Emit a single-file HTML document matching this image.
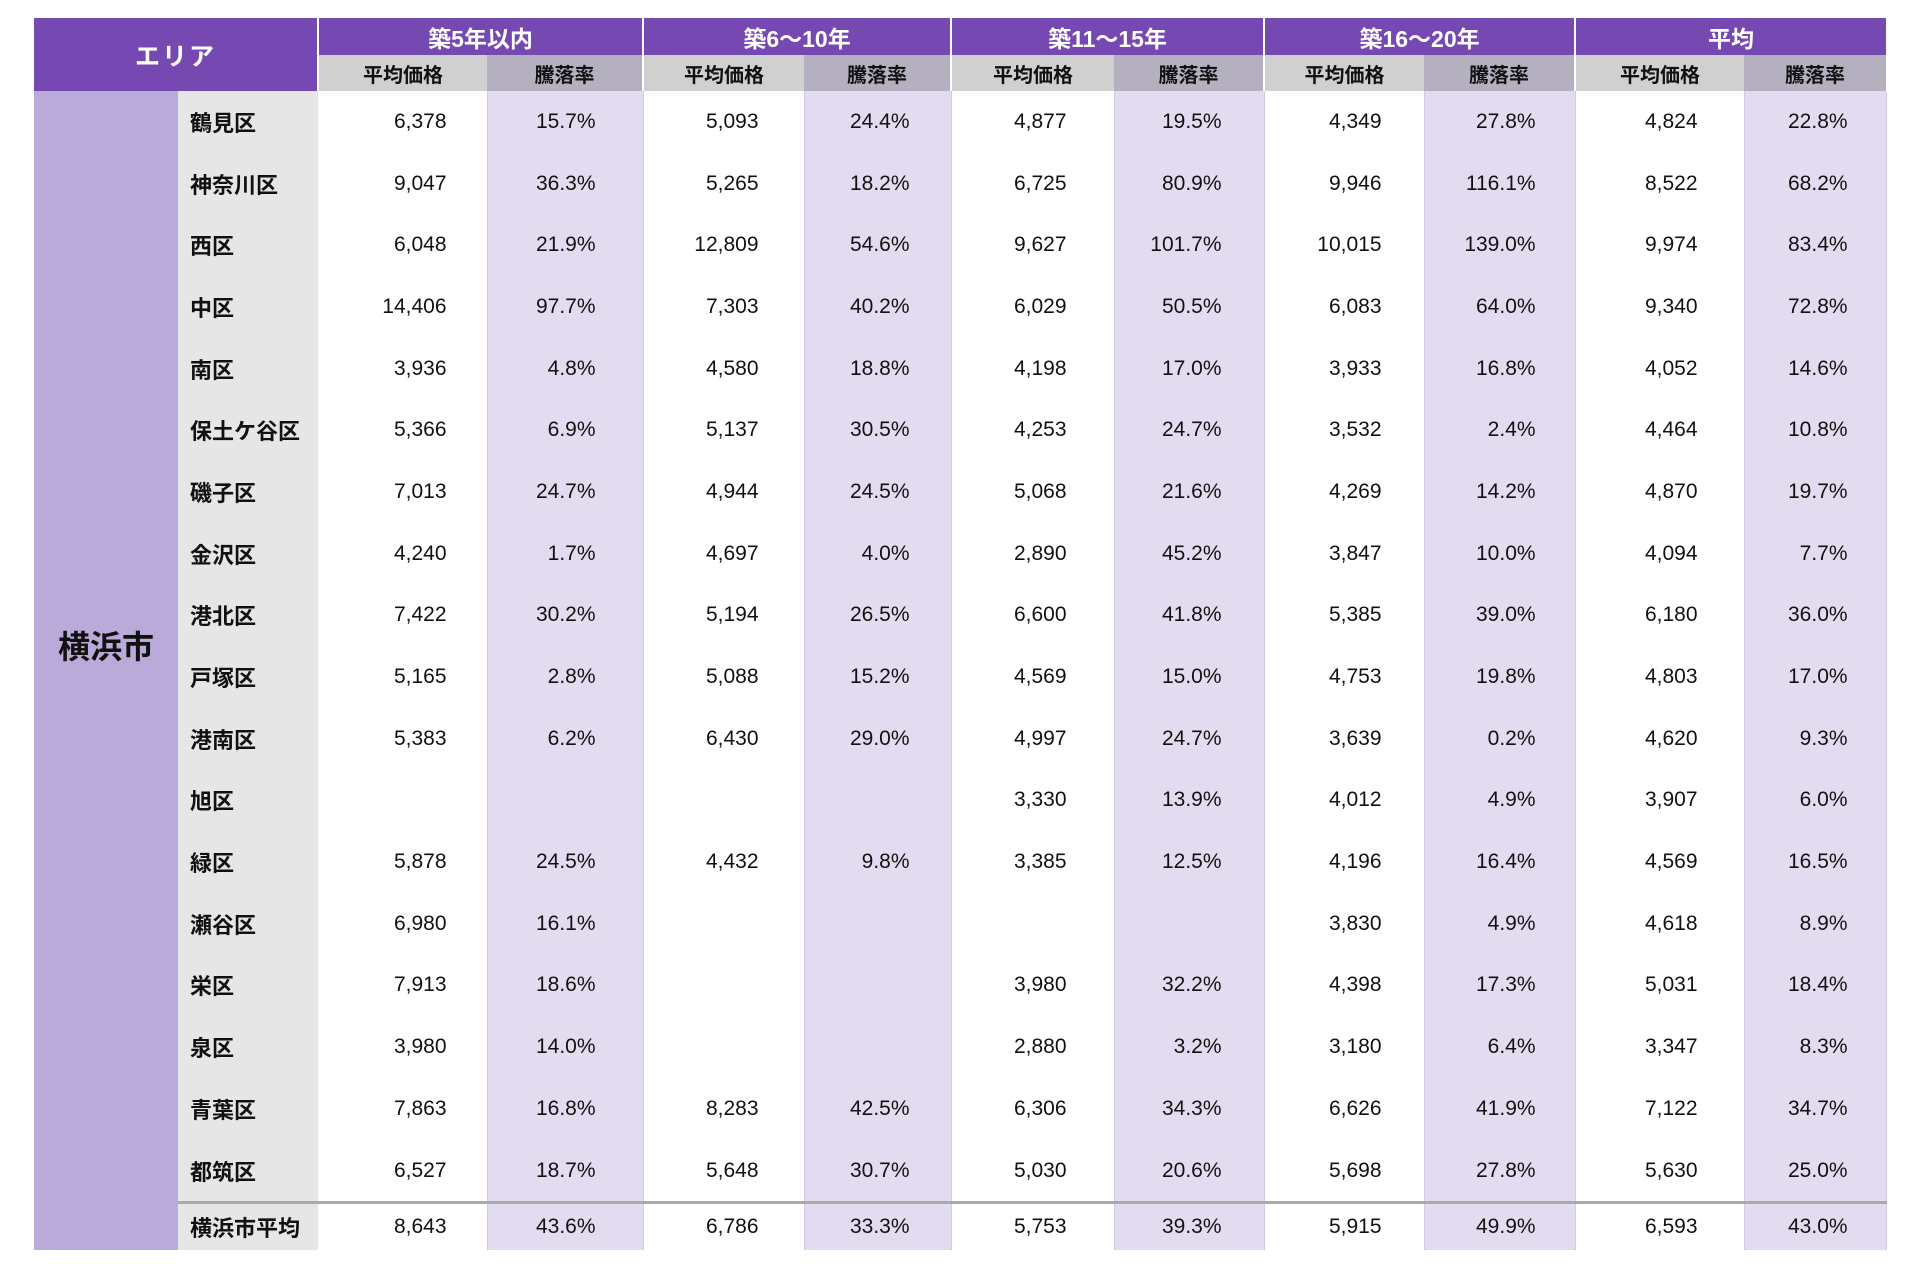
<!DOCTYPE html>
<html><head><meta charset="utf-8"><style>
html,body{margin:0;padding:0;background:#fff;width:1920px;height:1280px;overflow:hidden}
table{position:absolute;left:34px;top:18px;border-collapse:collapse;table-layout:fixed;width:1852px;font-family:"Liberation Sans","Noto Sans CJK JP",sans-serif}
td,th{padding:0;white-space:nowrap;overflow:hidden}
th.g{background:#7549b1;color:#fff;font-size:23px;font-weight:bold;height:37px;border-left:2px solid #fff}
th.ar{background:#7549b1;color:#fff;font-size:25px;font-weight:bold;letter-spacing:2px}
th.s{background:#d0d0d0;color:#111;font-size:20px;height:36px;font-weight:bold}
th.r{background:#b4b0c0}
th.s.f{border-left:2px solid #fff}
tbody td{font-size:21px;color:#111;text-align:right;height:61.7px}
tbody td.rt{background:#e3dcf0;border-left:1px solid #d2c9e6;border-right:1px solid #d2c9e6}
td.nm{background:#e6e6e6;text-align:left;padding-left:12px;font-weight:bold;font-size:22px}
td.city{background:#b9aad9;text-align:center;font-size:32px;font-weight:bold;padding-bottom:52px}
tr td:nth-last-child(1){padding-right:38px}
tr td:nth-last-child(2){padding-right:46px}
tr td:nth-last-child(3){padding-right:39px}
tr td:nth-last-child(4){padding-right:42px}
tr td:nth-last-child(5){padding-right:42px}
tr td:nth-last-child(6){padding-right:47px}
tr td:nth-last-child(7){padding-right:41px}
tr td:nth-last-child(8){padding-right:45px}
tr td:nth-last-child(9){padding-right:47px}
tr td:nth-last-child(10){padding-right:40px}
tr.last td{height:46px;border-top:3px solid #aaa}
tr.last td.nm{border-top:3px solid #aaa}
</style></head><body>
<table>
<colgroup><col style="width:144px"><col style="width:140px"><col style="width:169px"><col style="width:156px"><col style="width:161px"><col style="width:147px"><col style="width:163px"><col style="width:150px"><col style="width:160px"><col style="width:151px"><col style="width:169px"><col style="width:142px"></colgroup>
<thead>
<tr><th class="ar" colspan="2" rowspan="2">エリア</th><th class="g" colspan="2">築5年以内</th><th class="g" colspan="2">築6～10年</th><th class="g" colspan="2">築11～15年</th><th class="g" colspan="2">築16～20年</th><th class="g" colspan="2">平均</th></tr>
<tr><th class="s f">平均価格</th><th class="s r">騰落率</th><th class="s f">平均価格</th><th class="s r">騰落率</th><th class="s f">平均価格</th><th class="s r">騰落率</th><th class="s f">平均価格</th><th class="s r">騰落率</th><th class="s f">平均価格</th><th class="s r">騰落率</th></tr>
</thead>
<tbody>
<tr><td class="city" rowspan="19">横浜市</td><td class="nm">鶴見区</td><td>6,378</td><td class="rt">15.7%</td><td>5,093</td><td class="rt">24.4%</td><td>4,877</td><td class="rt">19.5%</td><td>4,349</td><td class="rt">27.8%</td><td>4,824</td><td class="rt">22.8%</td></tr>
<tr><td class="nm">神奈川区</td><td>9,047</td><td class="rt">36.3%</td><td>5,265</td><td class="rt">18.2%</td><td>6,725</td><td class="rt">80.9%</td><td>9,946</td><td class="rt">116.1%</td><td>8,522</td><td class="rt">68.2%</td></tr>
<tr><td class="nm">西区</td><td>6,048</td><td class="rt">21.9%</td><td>12,809</td><td class="rt">54.6%</td><td>9,627</td><td class="rt">101.7%</td><td>10,015</td><td class="rt">139.0%</td><td>9,974</td><td class="rt">83.4%</td></tr>
<tr><td class="nm">中区</td><td>14,406</td><td class="rt">97.7%</td><td>7,303</td><td class="rt">40.2%</td><td>6,029</td><td class="rt">50.5%</td><td>6,083</td><td class="rt">64.0%</td><td>9,340</td><td class="rt">72.8%</td></tr>
<tr><td class="nm">南区</td><td>3,936</td><td class="rt">4.8%</td><td>4,580</td><td class="rt">18.8%</td><td>4,198</td><td class="rt">17.0%</td><td>3,933</td><td class="rt">16.8%</td><td>4,052</td><td class="rt">14.6%</td></tr>
<tr><td class="nm">保土ケ谷区</td><td>5,366</td><td class="rt">6.9%</td><td>5,137</td><td class="rt">30.5%</td><td>4,253</td><td class="rt">24.7%</td><td>3,532</td><td class="rt">2.4%</td><td>4,464</td><td class="rt">10.8%</td></tr>
<tr><td class="nm">磯子区</td><td>7,013</td><td class="rt">24.7%</td><td>4,944</td><td class="rt">24.5%</td><td>5,068</td><td class="rt">21.6%</td><td>4,269</td><td class="rt">14.2%</td><td>4,870</td><td class="rt">19.7%</td></tr>
<tr><td class="nm">金沢区</td><td>4,240</td><td class="rt">1.7%</td><td>4,697</td><td class="rt">4.0%</td><td>2,890</td><td class="rt">45.2%</td><td>3,847</td><td class="rt">10.0%</td><td>4,094</td><td class="rt">7.7%</td></tr>
<tr><td class="nm">港北区</td><td>7,422</td><td class="rt">30.2%</td><td>5,194</td><td class="rt">26.5%</td><td>6,600</td><td class="rt">41.8%</td><td>5,385</td><td class="rt">39.0%</td><td>6,180</td><td class="rt">36.0%</td></tr>
<tr><td class="nm">戸塚区</td><td>5,165</td><td class="rt">2.8%</td><td>5,088</td><td class="rt">15.2%</td><td>4,569</td><td class="rt">15.0%</td><td>4,753</td><td class="rt">19.8%</td><td>4,803</td><td class="rt">17.0%</td></tr>
<tr><td class="nm">港南区</td><td>5,383</td><td class="rt">6.2%</td><td>6,430</td><td class="rt">29.0%</td><td>4,997</td><td class="rt">24.7%</td><td>3,639</td><td class="rt">0.2%</td><td>4,620</td><td class="rt">9.3%</td></tr>
<tr><td class="nm">旭区</td><td></td><td class="rt"></td><td></td><td class="rt"></td><td>3,330</td><td class="rt">13.9%</td><td>4,012</td><td class="rt">4.9%</td><td>3,907</td><td class="rt">6.0%</td></tr>
<tr><td class="nm">緑区</td><td>5,878</td><td class="rt">24.5%</td><td>4,432</td><td class="rt">9.8%</td><td>3,385</td><td class="rt">12.5%</td><td>4,196</td><td class="rt">16.4%</td><td>4,569</td><td class="rt">16.5%</td></tr>
<tr><td class="nm">瀬谷区</td><td>6,980</td><td class="rt">16.1%</td><td></td><td class="rt"></td><td></td><td class="rt"></td><td>3,830</td><td class="rt">4.9%</td><td>4,618</td><td class="rt">8.9%</td></tr>
<tr><td class="nm">栄区</td><td>7,913</td><td class="rt">18.6%</td><td></td><td class="rt"></td><td>3,980</td><td class="rt">32.2%</td><td>4,398</td><td class="rt">17.3%</td><td>5,031</td><td class="rt">18.4%</td></tr>
<tr><td class="nm">泉区</td><td>3,980</td><td class="rt">14.0%</td><td></td><td class="rt"></td><td>2,880</td><td class="rt">3.2%</td><td>3,180</td><td class="rt">6.4%</td><td>3,347</td><td class="rt">8.3%</td></tr>
<tr><td class="nm">青葉区</td><td>7,863</td><td class="rt">16.8%</td><td>8,283</td><td class="rt">42.5%</td><td>6,306</td><td class="rt">34.3%</td><td>6,626</td><td class="rt">41.9%</td><td>7,122</td><td class="rt">34.7%</td></tr>
<tr><td class="nm">都筑区</td><td>6,527</td><td class="rt">18.7%</td><td>5,648</td><td class="rt">30.7%</td><td>5,030</td><td class="rt">20.6%</td><td>5,698</td><td class="rt">27.8%</td><td>5,630</td><td class="rt">25.0%</td></tr>
<tr class="last"><td class="nm">横浜市平均</td><td>8,643</td><td class="rt">43.6%</td><td>6,786</td><td class="rt">33.3%</td><td>5,753</td><td class="rt">39.3%</td><td>5,915</td><td class="rt">49.9%</td><td>6,593</td><td class="rt">43.0%</td></tr>
</tbody>
</table>
</body></html>
